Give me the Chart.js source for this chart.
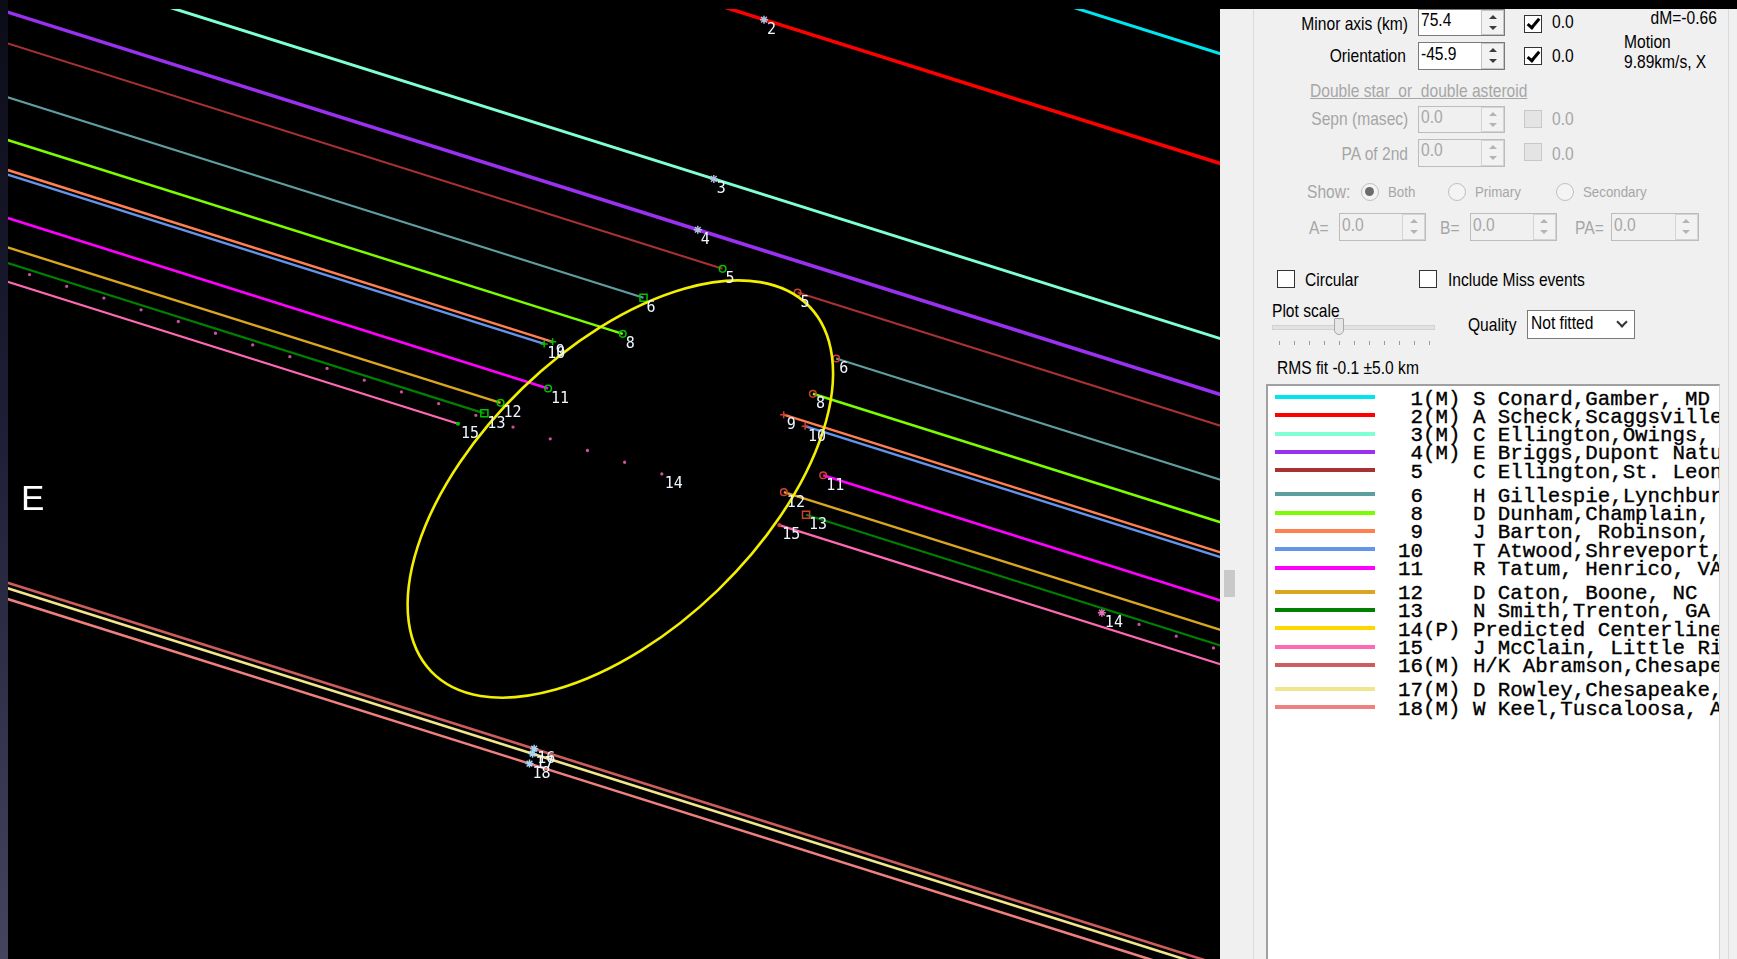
<!DOCTYPE html>
<html>
<head>
<meta charset="utf-8">
<script src="https://cdn.jsdelivr.net/npm/chart.js@4.4.1/dist/chart.umd.min.js"></script>
<style>
  body { margin: 0; width: 1737px; height: 959px; background: #000; overflow: hidden; position: relative;
         font-family: "Liberation Sans", Arial, sans-serif; }
  #desk { position: absolute; left: 0; top: 0; width: 8px; height: 959px;
          background: linear-gradient(#0c0c18, #1e1e36 45%, #44445f); }
  #plot { position: absolute; left: 8px; top: 9px; width: 1212px; height: 950px; background: #000; }
  #panel { position: absolute; left: 1220px; top: 9px; width: 517px; height: 950px; background: #f0f0f0; }
  .t { position: absolute; font-size: 19px; line-height: 20px; white-space: nowrap; color: #000;
       transform: scaleX(.82); transform-origin: 0 50%; }
  .t.r { transform-origin: 100% 50%; }
  .t.dis { color: #a6a6a6; }
  #list { position: absolute; left: 1266px; top: 384px; width: 451px; height: 600px; background: #fff;
          border-top: 2px solid #a0a0a0; border-left: 2px solid #a0a0a0; border-right: 1px solid #d4d4d4;
          overflow: hidden; }
  .row { position: absolute; left: 0; height: 20px; width: 470px; }
  .row .ln { position: absolute; left: 7px; top: 5.5px; width: 100px; height: 4px; }
  .row .tx { position: absolute; left: 130px; top: 0; font: 20.8px/20px "Liberation Mono", "Courier New", monospace;
             white-space: pre; color: #000; -webkit-text-stroke: 0.35px #000; }
</style>
</head>
<body>
<div id="desk"></div>
<div id="plot"><canvas id="chart"></canvas></div>
<div id="panel"></div>
<div id="list"></div>

<script>
// ---- fitted outline ----
const ELLIPSE_MAJOR_KM = 141.0;
const ELLIPSE_MINOR_KM = 75.4;
const ELLIPSE_TILT_DEG = 44.0;      // major axis, up-right from +x
const PATH_ANGLE_DEG = -17.5;       // direction of motion across the plot

// plot window in km (ellipse centre at 0,0)
const X_MIN = -164.3, X_MAX = 160.9;
const Y_MIN = -126.1, Y_MAX = 128.8;

// ---- observers (legend order) ----
const observerIds = [1, 2, 3, 4, 5, 6, 8, 9, 10, 11, 12, 13, 14, 15, 16, 17, 18];
const observerTags = ['(M)', '(M)', '(M)', '(M)', '', '', '', '', '', '', '', '', '(P)', '', '(M)', '(M)', '(M)'];
const observerNames = [
    'S Conard,Gamber, MD', 'A Scheck,Scaggsville', 'C Ellington,Owings,', 'E Briggs,Dupont Natu',
    'C Ellington,St. Leon', 'H Gillespie,Lynchbur', 'D Dunham,Champlain,', 'J Barton, Robinson,',
    'T Atwood,Shreveport,', 'R Tatum, Henrico, VA', 'D Caton, Boone, NC', 'N Smith,Trenton, GA',
    'Predicted Centerline', 'J McClain, Little Ri', 'H/K Abramson,Chesape', 'D Rowley,Chesapeake,',
    'W Keel,Tuscaloosa, A'
];
const observerColors = ['#00e6f0', '#ff0000', '#7fffd4', '#9a30f0', '#a83232', '#5f9ea0', '#7cfc00', '#ff7f50',
    '#6495ed', '#ff00ff', '#daa520', '#008000', '#ffd700', '#ff69b4', '#cd5c5c', '#f0e68c', '#f08080'];
const lineWidths = [3, 3.5, 3, 3.5, 2, 2.2, 2.6, 2.4, 2.4, 2.6, 2.4, 2.2, 3.3, 2.2, 2.6, 2.6, 2.6];

// cross-track offset of each chord (km) and along-track D / R positions (km); null = miss
const chordOffsetKm = [159.8, 131.7, 86.9, 72.6, 64.6, 50.8, 39.9, 32.2, 31.0, 19.9, 12.4, 8.4, 7.2, 3.6, -73.4, -74.8, -77.6];
const disappearKm = [null, null, null, null, 8.4, -9.5, -11.9, -29.2, -31.2, -26.6, -37.6, -40.9, 9.4, -46.8, null, null, null];
const reappearKm = [null, null, null, null, 29.5, 44.7, 41.6, 35.8, 42.2, 50.8, 42.1, 49.6, 133.2, 43.6, null, null, null];
const missMarkKm = -1.1;

// marker symbols at D and R
const dMarker = [null, null, null, null, 'circle', 'rect', 'circle', 'cross', 'cross', 'circle', 'circle', 'rect', false, 'dot', null, null, null];
const rMarker = [null, null, null, null, 'circle', 'circle', 'circle', 'cross', 'cross', 'circle', 'circle', 'rect', 'star', 'dot', null, null, null];

const PREDICTED_DOT = '#cc509c';
const FAR = 400;

const a = PATH_ANGLE_DEG * Math.PI / 180;
function at(u, v) {
    return { x: u * Math.cos(a) - v * Math.sin(a), y: u * Math.sin(a) + v * Math.cos(a) };
}

function markerOpts(style, color) {
    if (!style) return { r: 0, s: 'circle', fill: 'rgba(0,0,0,0)' };
    if (style === 'dot') return { r: 1.3, s: 'circle', fill: color };
    if (style === 'rect') return { r: 5, s: 'rect', fill: 'rgba(0,0,0,0)' };
    if (style === 'cross') return { r: 3.5, s: 'cross', fill: 'rgba(0,0,0,0)' };
    if (style === 'star') return { r: 4, s: 'star', fill: 'rgba(0,0,0,0)' };
    return { r: 3.3, s: 'circle', fill: 'rgba(0,0,0,0)' };
}

const datasets = [];
const labels = [];
observerIds.forEach((id, i) => {
    const v = chordOffsetKm[i];
    const predicted = observerTags[i] === '(P)';
    const col = predicted ? PREDICTED_DOT : observerColors[i];
    const base = {
        showLine: true, borderColor: col, borderWidth: lineWidths[i], pointBorderWidth: 1.5, clip: false
    };
    if (predicted) Object.assign(base, { borderDash: [0, 39], borderCapStyle: 'round' });

    if (disappearKm[i] === null) {
        const mk = at(missMarkKm, v);
        datasets.push(Object.assign({}, base, {
            data: [at(-FAR, v), mk, at(FAR, v)],
            pointRadius: [0, 4, 0], pointStyle: 'star',
            pointBorderColor: id > 15 ? '#a8d4f4' : '#b0bce0'
        }));
        labels.push({ text: String(id), p: mk });
        return;
    }
    const D = at(disappearKm[i], v), R = at(reappearKm[i], v);
    const dm = markerOpts(dMarker[i], '#00c000');
    const rm = markerOpts(rMarker[i], '#d04030');
    datasets.push(Object.assign({}, base, {
        data: [D, at(-FAR, v)], pointRadius: [dm.r, 0], pointStyle: dm.s,
        pointBorderColor: '#00c400', pointBackgroundColor: dm.fill
    }));
    datasets.push(Object.assign({}, base, {
        data: [R, at(FAR, v)], pointRadius: [rm.r, 0], pointStyle: rm.s,
        pointBorderColor: predicted ? '#e070b8' : '#d04030', pointBackgroundColor: rm.fill
    }));
    labels.push({ text: String(id), p: D });
    labels.push({ text: String(id), p: R });
});

const overlay = {
    id: 'overlay',
    afterDatasetsDraw(chart) {
        const { ctx, chartArea: ca, scales: { x, y } } = chart;
        ctx.save();
        ctx.beginPath();
        ctx.rect(ca.left, ca.top, ca.right - ca.left, ca.bottom - ca.top);
        ctx.clip();

        // fitted ellipse
        const cx = x.getPixelForValue(0), cy = y.getPixelForValue(0);
        const rx = x.getPixelForValue(ELLIPSE_MAJOR_KM / 2) - cx;
        const ry = cy - y.getPixelForValue(ELLIPSE_MINOR_KM / 2);
        ctx.beginPath();
        ctx.ellipse(cx, cy, rx, ry, -ELLIPSE_TILT_DEG * Math.PI / 180, 0, Math.PI * 2);
        ctx.strokeStyle = '#f2f000';
        ctx.lineWidth = 2.6;
        ctx.stroke();

        // chord numbers
        ctx.font = '15px "DejaVu Sans Mono", monospace';
        ctx.fillStyle = '#eef6ff';
        ctx.textBaseline = 'middle';
        ctx.textAlign = 'left';
        labels.forEach(l => {
            ctx.fillText(l.text, x.getPixelForValue(l.p.x) + 3, y.getPixelForValue(l.p.y) + 10.5);
        });

        // compass letter
        ctx.font = '35px "Liberation Sans", Arial, sans-serif';
        ctx.fillStyle = '#ffffff';
        ctx.textBaseline = 'alphabetic';
        ctx.fillText('E', ca.left + 13, ca.top + 501);
        ctx.restore();
    }
};

new Chart(document.getElementById('chart').getContext('2d'), {
    type: 'scatter',
    data: { datasets: datasets },
    options: {
        animation: false,
        responsive: true,
        maintainAspectRatio: false,
        events: [],
        layout: { padding: 0, autoPadding: false },
        plugins: { legend: { display: false }, tooltip: { enabled: false } },
        scales: {
            x: { type: 'linear', min: X_MIN, max: X_MAX, display: false },
            y: { type: 'linear', min: Y_MIN, max: Y_MAX, display: false }
        }
    },
    plugins: [overlay]
});

// ---- observer list ----
const list = document.getElementById('list');
observerIds.forEach((id, i) => {
    const row = document.createElement('div');
    row.className = 'row';
    row.style.top = (399.5 + i * 18.3 + Math.floor(i / 5) * 5.8 - 10 - 386) + 'px';
    const ln = document.createElement('div');
    ln.className = 'ln';
    ln.style.background = observerColors[i];
    const tx = document.createElement('div');
    tx.className = 'tx';
    tx.textContent = String(id).padStart(2, ' ') + (observerTags[i] || '   ') + ' ' + observerNames[i];
    row.appendChild(ln);
    row.appendChild(tx);
    list.appendChild(row);
});

// ---- side panel controls ----
function el(css, html) {
    const d = document.createElement('div');
    d.style.position = 'absolute';
    Object.assign(d.style, css);
    if (html !== undefined) d.innerHTML = html;
    document.body.appendChild(d);
    return d;
}
function txt(s, x, cy, o) {
    o = o || {};
    const d = el({ top: (cy - 10) + 'px' }, s);
    d.className = 't' + (o.right ? ' r' : '') + (o.dis ? ' dis' : '');
    if (o.right) d.style.right = (1737 - x) + 'px'; else d.style.left = x + 'px';
    if (o.size) d.style.fontSize = o.size + 'px';
    if (o.sx) d.style.transform = 'scaleX(' + o.sx + ')';
    if (o.u) d.style.textDecoration = 'underline';
    return d;
}
function arrow(x, y, up, col) {
    const css = { left: x + 'px', top: y + 'px', width: 0, height: 0,
        borderLeft: '4px solid transparent', borderRight: '4px solid transparent' };
    css[up ? 'borderBottom' : 'borderTop'] = '4px solid ' + col;
    el(css);
}
function input(x, top, w, h, val, dis) {
    el({ left: x + 'px', top: top + 'px', width: w + 'px', height: h + 'px', boxSizing: 'border-box',
         border: '1px solid ' + (dis ? '#bcbcbc' : '#7a7a7a'), background: dis ? '#f0f0f0' : '#fff' });
    txt(val, x + 3, top + h * 0.42, { dis: dis });
    const sx = x + w - 24;
    el({ left: sx + 'px', top: (top + 1) + 'px', width: '23px', height: (h - 2) + 'px', boxSizing: 'border-box',
         border: '1px solid ' + (dis ? '#d4d4d4' : '#c4c4c4'), background: '#f2f2f2' });
    const ac = dis ? '#b4b4b4' : '#3c3c3c';
    arrow(sx + 7.5, top + h * 0.22, true, ac);
    arrow(sx + 7.5, top + h * 0.62, false, ac);
}
function check(x, y, on, dis) {
    el({ left: x + 'px', top: y + 'px', width: '18px', height: '18px', boxSizing: 'border-box',
         border: '1px solid ' + (dis ? '#c8c8c8' : '#333'), background: dis ? '#e4e4e4' : '#fff' });
    if (on) el({ left: (x + 6) + 'px', top: (y + 1.5) + 'px', width: '4px', height: '10px',
                 borderRight: '3px solid #000', borderBottom: '3px solid #000', transform: 'rotate(40deg)' });
}
function radio(cx, cy, on) {
    el({ left: (cx - 9) + 'px', top: (cy - 9) + 'px', width: '18px', height: '18px', boxSizing: 'border-box',
         borderRadius: '50%', border: '1px solid #c0c0c0', background: '#f4f4f4' });
    if (on) el({ left: (cx - 4.5) + 'px', top: (cy - 4.5) + 'px', width: '9px', height: '9px',
                 borderRadius: '50%', background: '#6c6c6c' });
}

// panel frame lines and splitter grip
el({ left: '1253px', top: '9px', width: '1px', height: '950px', background: '#dadada' });
el({ left: '1728px', top: '9px', width: '1px', height: '950px', background: '#dadada' });
el({ left: '1224px', top: '570px', width: '11px', height: '27px', background: '#c9c9c9' });

txt('Minor axis (km)', 1408, 24, { right: true });
input(1418, 9, 87, 27, '75.4');
check(1524, 14.5, true);
txt('0.0', 1552, 22);
txt('dM=-0.66', 1717, 18.3, { right: true });
txt('Motion', 1624, 41.7);
txt('9.89km/s, X', 1624, 62.3);

txt('Orientation', 1406, 55.7, { right: true });
input(1418, 42, 87, 28, '-45.9');
check(1524, 47, true);
txt('0.0', 1552, 55.7);

txt('Double star&nbsp; or&nbsp; double asteroid', 1310, 90.7, { dis: true, u: true });
txt('Sepn (masec)', 1408, 119, { right: true, dis: true });
input(1418, 106, 87, 27, '0.0', true);
check(1524, 110, false, true);
txt('0.0', 1552, 119, { dis: true });
txt('PA of 2nd', 1408, 154, { right: true, dis: true });
input(1418, 138.5, 87, 28, '0.0', true);
check(1524, 143, false, true);
txt('0.0', 1552, 154, { dis: true });

txt('Show:', 1307, 191.7, { dis: true });
radio(1369.7, 191.7, true);
txt('Both', 1388, 192, { dis: true, size: 14, sx: .95 });
radio(1457, 191.7, false);
txt('Primary', 1475, 192, { dis: true, size: 14, sx: .95 });
radio(1564.7, 191.7, false);
txt('Secondary', 1583, 192, { dis: true, size: 14, sx: .95 });

txt('A=', 1308.7, 228.3, { dis: true });
input(1339, 212.7, 87, 28.3, '0.0', true);
txt('B=', 1440.3, 228.3, { dis: true });
input(1469.7, 212.7, 87, 28.3, '0.0', true);
txt('PA=', 1575.3, 228.3, { dis: true });
input(1611.3, 212.7, 87.4, 28.3, '0.0', true);

check(1277, 270, false);
txt('Circular', 1304.7, 280);
check(1419.3, 270, false);
txt('Include Miss events', 1448, 280);

txt('Plot scale', 1272.3, 310.7);
el({ left: '1272px', top: '325px', width: '161px', height: '3px', background: '#e2e2e2', border: '1px solid #d2d2d2' });
for (let k = 0; k < 11; k++) el({ left: (1279 + k * 15) + 'px', top: '341px', width: '1px', height: '4px', background: '#9a9a9a' });
el({ left: '1333.5px', top: '318px', width: '10px', height: '17px', boxSizing: 'border-box',
     border: '1px solid #a8a8a8', background: '#e6e6e6', borderRadius: '1px 1px 5px 5px' });

txt('Quality', 1468, 325);
el({ left: '1527.3px', top: '310px', width: '107.4px', height: '29.3px', boxSizing: 'border-box',
     border: '1px solid #7a7a7a', background: '#fff' });
txt('Not fitted', 1531.3, 323);
el({ left: '1618px', top: '318px', width: '6px', height: '6px', borderRight: '2px solid #333',
     borderBottom: '2px solid #333', transform: 'rotate(45deg)' });

txt('RMS fit -0.1 &plusmn;5.0 km', 1277, 367.7);
</script>
</body>
</html>
